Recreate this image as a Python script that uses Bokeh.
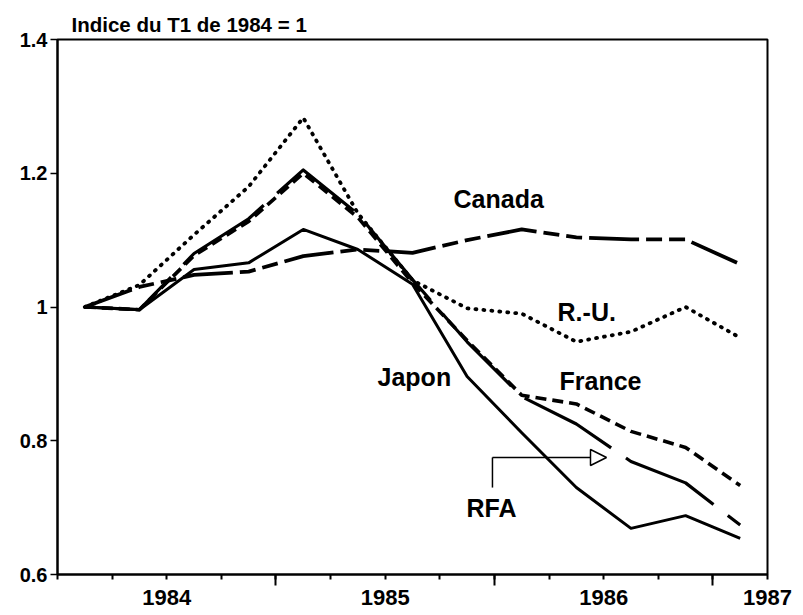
from bokeh.plotting import figure
from bokeh.models import Range1d, FixedTicker, LinearAxis, Label, Arrow, NormalHead
from bokeh.embed import file_html
from bokeh.resources import INLINE

# ---- data (index, 1984 T1 = 1), quarterly 1984 T1 .. 1987 T1 ----
years = [1984, 1984, 1984, 1984, 1985, 1985, 1985, 1985, 1986, 1986, 1986, 1986, 1987]
quarter_no = [1, 2, 3, 4, 1, 2, 3, 4, 1, 2, 3, 4, 1]
x = [y + (q - 0.5) / 4 for y, q in zip(years, quarter_no)]

japon = [1.0, 0.996, 1.056, 1.066, 1.116, 1.086, 1.034, 0.896, 0.812, 0.730, 0.669, 0.688, 0.654]
rfa = [1.0, 0.996, 1.080, 1.132, 1.205, 1.139, 1.041, 0.948, 0.866, 0.825, 0.769, 0.737, 0.674]
france = [1.0, 0.996, 1.077, 1.128, 1.200, 1.134, 1.036, 0.950, 0.868, 0.855, 0.814, 0.790, 0.733]
canada = [1.0, 1.030, 1.048, 1.053, 1.076, 1.086, 1.081, 1.100, 1.116, 1.104, 1.101, 1.101, 1.064]
ru = [1.0, 1.033, 1.108, 1.180, 1.283, 1.140, 1.040, 0.998, 0.990, 0.948, 0.963, 1.000, 0.954]

y_ticks = [0.6, 0.8, 1.0, 1.2, 1.4]
y_tick_labels = ["0.6", "0.8", "1", "1.2", "1.4"]
year_label_pos = [1984.5, 1985.5, 1986.5, 1987.25]
year_labels = ["1984", "1985", "1986", "1987"]
year_bounds = [1985, 1986, 1987]
quarter_bounds = [1984 + 0.25 * i for i in range(14)]

FONT = "Liberation Sans"

p = figure(width=802, height=614,
           x_range=Range1d(1984.0, 1987.25), y_range=Range1d(0.6, 1.4),
           output_backend="svg", toolbar_location=None, x_axis_type=None,
           min_border_left=57, min_border_right=35, min_border_top=39, min_border_bottom=40)
p.grid.visible = False
p.outline_line_color = "black"
p.outline_line_width = 2
p.outline_line_alpha = 1

p.title.text = "Indice du T1 de 1984 = 1"
p.title.align = "left"
p.title.offset = 14
p.title.text_font = FONT
p.title.text_font_size = "20.5px"
p.title.text_font_style = "bold"
p.title.text_color = "black"
p.title.standoff = 7

# y axis
ya = p.yaxis[0]
ya.ticker = FixedTicker(ticks=y_ticks, minor_ticks=[])
ya.major_label_overrides = {t: l for t, l in zip(y_ticks, y_tick_labels)}
ya.axis_line_width = 2
ya.major_tick_out = 7
ya.major_tick_in = 0
ya.major_tick_line_width = 1.5
ya.major_label_standoff = 3
ya.major_label_text_font = FONT
ya.major_label_text_font_size = "20px"
ya.major_label_text_font_style = "bold"
ya.major_label_text_color = "black"

# x axis: tick marks (quarters, longer at year boundaries)
ax_ticks = LinearAxis(ticker=FixedTicker(ticks=year_bounds, minor_ticks=quarter_bounds),
                      major_tick_out=11, major_tick_in=0, minor_tick_out=5, minor_tick_in=0,
                      major_tick_line_width=2, minor_tick_line_width=2, axis_line_width=2,
                      major_label_text_font_size="0px", major_label_standoff=0,
                      major_label_overrides={b: "" for b in year_bounds})
p.add_layout(ax_ticks, "below")

# x axis: year labels
ax_labels = LinearAxis(ticker=FixedTicker(ticks=year_label_pos, minor_ticks=[]),
                       major_label_overrides={t: l for t, l in zip(year_label_pos, year_labels)},
                       axis_line_color=None, major_tick_line_color=None, minor_tick_line_color=None,
                       major_tick_out=0, major_tick_in=0, minor_tick_out=0, minor_tick_in=0,
                       major_label_standoff=4, major_label_text_font=FONT,
                       major_label_text_font_size="22px", major_label_text_font_style="bold",
                       major_label_text_color="black")
p.add_layout(ax_labels, "below")

# series
p.line(x, japon, line_color="black", line_width=3, line_join="round")
p.line(x, rfa, line_color="black", line_width=3.2, line_dash="100 18", line_join="round")
p.line(x, france, line_color="black", line_width=3.6, line_dash="11 6", line_join="round")
p.line(x, canada, line_color="black", line_width=3.8, line_dash="50 7 16 7 16 7", line_join="round")
p.line(x, ru, line_color="black", line_width=3.8, line_dash="1 7", line_cap="round", line_join="round")

# series labels
label_specs = [
    ("Canada", 1985.813, 1.162),
    ("R.-U.", 1986.289, 0.993),
    ("Japon", 1985.465, 0.896),
    ("France", 1986.298, 0.890),
    ("RFA", 1985.872, 0.700),
]
for txt, lx, ly in label_specs:
    p.add_layout(Label(x=lx, y=ly, text=txt, text_font=FONT, text_font_size="25px",
                       text_font_style="bold", text_align="left", text_baseline="middle",
                       text_color="black"))

# RFA pointer
arrow_x0, arrow_x1 = 1985.991, 1986.513
arrow_y0, arrow_y1 = 0.730, 0.775
p.line([arrow_x0, arrow_x0], [arrow_y0, arrow_y1], line_color="black", line_width=1.5)
p.add_layout(Arrow(x_start=arrow_x0, y_start=arrow_y1, x_end=arrow_x1, y_end=arrow_y1,
                   line_width=1.5, line_color="black",
                   end=NormalHead(size=16, fill_color="white", line_color="black", line_width=1.5)))

open("out.html", "w").write(file_html(p, INLINE))
